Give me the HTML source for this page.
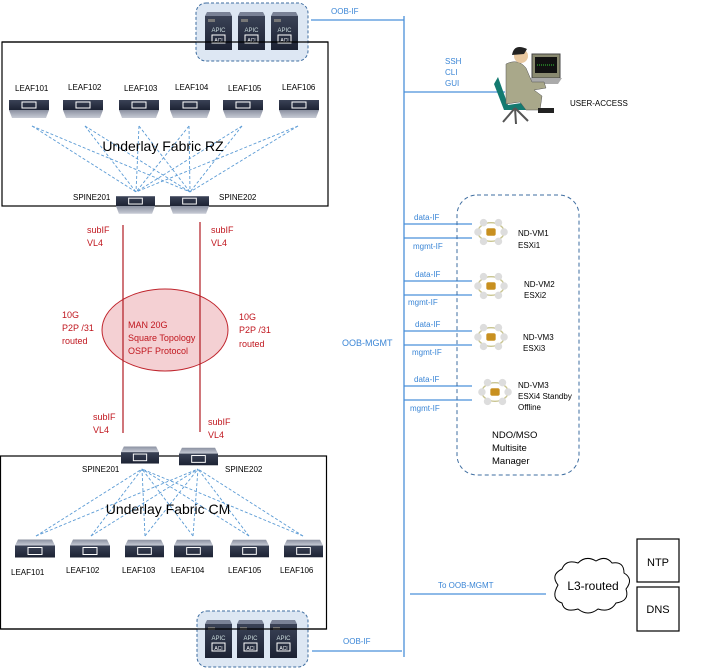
<!DOCTYPE html>
<html><head><meta charset="utf-8"><style>
html,body{margin:0;padding:0;background:#fff}
svg{display:block}
text{font-family:"Liberation Sans",sans-serif}
</style></head><body>
<svg width="701" height="668" viewBox="0 0 701 668" xmlns="http://www.w3.org/2000/svg">
<defs>
<linearGradient id="sw" x1="0" y1="0" x2="0" y2="1"><stop offset="0" stop-color="#3a4256"/><stop offset="1" stop-color="#1c2233"/></linearGradient>
<linearGradient id="swb" x1="0" y1="0" x2="0" y2="1"><stop offset="0" stop-color="#8a90a0"/><stop offset="1" stop-color="#c8ccd6"/></linearGradient>
<symbol id="leafT" viewBox="0 0 40 18"><rect x="0" y="0" width="40" height="10" fill="url(#sw)"/><polygon points="0,10 40,10 37,18 3,18" fill="url(#swb)"/><rect x="13" y="2" width="14" height="6" fill="none" stroke="#fff" stroke-width="1"/></symbol>
<symbol id="leafB" viewBox="0 0 40 18"><polygon points="3,0 37,0 40,6 0,6" fill="url(#swb)"/><rect x="0" y="6" width="40" height="12" fill="url(#sw)"/><rect x="13" y="8" width="14" height="7" fill="none" stroke="#fff" stroke-width="1"/></symbol>
<symbol id="apic" viewBox="0 0 27 38"><polygon points="2,0 25,0 27,4 0,4" fill="#7a8296"/><rect x="0" y="4" width="27" height="34" fill="url(#sw)"/><rect x="3" y="7" width="7" height="3" fill="#777"/><text x="13.5" y="20" font-size="6" fill="#cdd" text-anchor="middle">APIC</text><rect x="7" y="23" width="13" height="8" fill="none" stroke="#fff" stroke-width="1"/><text x="13.5" y="30" font-size="5" fill="#fff" text-anchor="middle">ACI</text></symbol>
<symbol id="nd" viewBox="0 0 40 30"><ellipse cx="20" cy="15" rx="14" ry="10" fill="none" stroke="#c8c490" stroke-width="1.5"/><circle cx="6" cy="15" r="4" fill="#ddd"/><circle cx="34" cy="15" r="4" fill="#ddd"/><circle cx="12" cy="5" r="4" fill="#ddd"/><circle cx="28" cy="5" r="4" fill="#ddd"/><circle cx="12" cy="25" r="4" fill="#ddd"/><circle cx="28" cy="25" r="4" fill="#ddd"/><rect x="15" y="11" width="10" height="8" rx="2" fill="#c89020"/></symbol>
</defs>

<g stroke="#4a90d9" stroke-width="1.3" fill="none">
<line x1="404" y1="16" x2="404" y2="657"/>
<line x1="311" y1="20" x2="404" y2="20"/>
<line x1="312" y1="651" x2="402" y2="651"/>
<line x1="404" y1="92" x2="505" y2="92"/>
<line x1="410" y1="594" x2="546" y2="594"/>
<line x1="404" y1="224" x2="472" y2="224"/><line x1="404" y1="238" x2="472" y2="238"/>
<line x1="404" y1="281" x2="472" y2="281"/><line x1="404" y1="295" x2="472" y2="295"/>
<line x1="404" y1="331" x2="472" y2="331"/><line x1="404" y1="345" x2="472" y2="345"/>
<line x1="404" y1="386" x2="472" y2="386"/><line x1="404" y1="400" x2="472" y2="400"/>
</g>
<g font-size="8" fill="#3b86d6">
<text x="331" y="14">OOB-IF</text>
<text x="343" y="644">OOB-IF</text>
<text x="445" y="64">SSH</text><text x="445" y="75">CLI</text><text x="445" y="86">GUI</text>
<text x="342" y="346" font-size="9">OOB-MGMT</text>
<text x="438" y="588">To OOB-MGMT</text>
<text x="414" y="220">data-IF</text><text x="413" y="249">mgmt-IF</text>
<text x="415" y="277">data-IF</text><text x="408" y="305">mgmt-IF</text>
<text x="415" y="327">data-IF</text><text x="412" y="355">mgmt-IF</text>
<text x="414" y="382">data-IF</text><text x="410" y="411">mgmt-IF</text>
</g>

<rect x="2" y="42" width="326" height="164" fill="none" stroke="#000" stroke-width="1.2"/>
<rect x="0.5" y="456" width="326" height="173" fill="none" stroke="#000" stroke-width="1.2"/>

<rect x="196" y="3" width="112" height="58" rx="10" fill="#dde7f3" stroke="#3e6da0" stroke-dasharray="3,2"/>
<use href="#apic" x="205" y="12" width="27" height="38"/><use href="#apic" x="238" y="12" width="27" height="38"/><use href="#apic" x="271" y="12" width="27" height="38"/>
<rect x="197" y="611" width="111" height="56" rx="10" fill="#dde7f3" stroke="#3e6da0" stroke-dasharray="3,2"/>
<use href="#apic" x="205" y="620" width="27" height="38"/><use href="#apic" x="237" y="620" width="27" height="38"/><use href="#apic" x="270" y="620" width="27" height="38"/>
<line x1="2" y1="42" x2="328" y2="42" stroke="#000" stroke-width="1.2"/>
<line x1="0.5" y1="629" x2="326.5" y2="629" stroke="#000" stroke-width="1.2"/>

<g stroke="#5b9bd5" stroke-width="0.9" stroke-dasharray="3,2" fill="none">
<line x1="32" y1="126" x2="136" y2="192"/><line x1="32" y1="126" x2="190" y2="192"/>
<line x1="85" y1="126" x2="136" y2="192"/><line x1="85" y1="126" x2="190" y2="192"/>
<line x1="139" y1="126" x2="136" y2="192"/><line x1="139" y1="126" x2="190" y2="192"/>
<line x1="189" y1="126" x2="136" y2="192"/><line x1="189" y1="126" x2="190" y2="192"/>
<line x1="242" y1="126" x2="136" y2="192"/><line x1="242" y1="126" x2="190" y2="192"/>
<line x1="298" y1="126" x2="136" y2="192"/><line x1="298" y1="126" x2="190" y2="192"/>
</g>
<g stroke="#5b9bd5" stroke-width="0.9" stroke-dasharray="3,2" fill="none">
<line x1="36" y1="536" x2="142" y2="469"/><line x1="36" y1="536" x2="198" y2="469"/>
<line x1="91" y1="536" x2="142" y2="469"/><line x1="91" y1="536" x2="198" y2="469"/>
<line x1="145" y1="536" x2="142" y2="469"/><line x1="145" y1="536" x2="198" y2="469"/>
<line x1="193" y1="536" x2="142" y2="469"/><line x1="193" y1="536" x2="198" y2="469"/>
<line x1="249" y1="536" x2="142" y2="469"/><line x1="249" y1="536" x2="198" y2="469"/>
<line x1="303" y1="536" x2="142" y2="469"/><line x1="303" y1="536" x2="198" y2="469"/>
</g>

<use href="#leafT" x="9" y="100" width="40" height="18"/><use href="#leafT" x="63" y="100" width="40" height="18"/>
<use href="#leafT" x="119" y="100" width="40" height="18"/><use href="#leafT" x="170" y="100" width="40" height="18"/>
<use href="#leafT" x="223" y="100" width="40" height="18"/><use href="#leafT" x="279" y="100" width="40" height="18"/>
<use href="#leafT" x="116" y="196" width="39" height="18"/><use href="#leafT" x="170" y="196" width="39" height="18"/>
<g font-size="8" fill="#000">
<text x="15" y="91">LEAF101</text><text x="68" y="90">LEAF102</text><text x="124" y="91">LEAF103</text><text x="175" y="90">LEAF104</text><text x="228" y="91">LEAF105</text><text x="282" y="90">LEAF106</text>
<text x="73" y="200">SPINE201</text><text x="219" y="200">SPINE202</text>
<text x="82" y="472">SPINE201</text><text x="225" y="472">SPINE202</text>
<text x="11" y="575">LEAF101</text><text x="66" y="573">LEAF102</text><text x="122" y="573">LEAF103</text><text x="171" y="573">LEAF104</text><text x="228" y="573">LEAF105</text><text x="280" y="573">LEAF106</text>
</g>
<text x="163" y="151" font-size="14" text-anchor="middle" fill="#000">Underlay Fabric RZ</text>
<text x="168" y="514" font-size="14" text-anchor="middle" fill="#000">Underlay Fabric CM</text>

<use href="#leafB" x="15" y="539" width="40" height="19"/><use href="#leafB" x="70" y="539" width="40" height="19"/>
<use href="#leafB" x="125" y="539" width="39" height="19"/><use href="#leafB" x="174" y="539" width="39" height="19"/>
<use href="#leafB" x="230" y="539" width="39" height="19"/><use href="#leafB" x="284" y="539" width="39" height="19"/>
<use href="#leafB" x="121" y="445" width="38" height="20"/><use href="#leafB" x="179" y="446" width="39" height="21"/>

<ellipse cx="165" cy="330" rx="63" ry="41" fill="#f4d0d3" stroke="#c0262e" stroke-width="1"/>
<line x1="123" y1="225" x2="123" y2="433" stroke="#b01a22" stroke-width="1.2"/>
<line x1="200" y1="222" x2="200" y2="432" stroke="#b01a22" stroke-width="1.2"/>
<g font-size="9" fill="#c0161e">
<text x="128" y="328">MAN 20G</text><text x="128" y="341">Square Topology</text><text x="128" y="354">OSPF Protocol</text>
<text x="87" y="233">subIF</text><text x="87" y="246">VL4</text>
<text x="211" y="233">subIF</text><text x="211" y="246">VL4</text>
<text x="62" y="318">10G</text><text x="62" y="331">P2P /31</text><text x="62" y="344">routed</text>
<text x="239" y="320">10G</text><text x="239" y="333">P2P /31</text><text x="239" y="347">routed</text>
<text x="93" y="420">subIF</text><text x="93" y="433">VL4</text>
<text x="208" y="425">subIF</text><text x="208" y="438">VL4</text>
</g>

<!-- user -->
<g>
<rect x="532" y="54" width="28" height="24" fill="#8a8a70" stroke="#444"/><rect x="535" y="57" width="22" height="16" fill="#111"/><line x1="537" y1="65" x2="555" y2="65" stroke="#3c3" stroke-dasharray="1,1"/>
<polygon points="530,78 562,78 558,84 528,84" fill="#aaa"/>
<path d="M498,77 l10,28 l20,-3 l-2,8 l-22,0 l-10,-26 z" fill="#137a70"/>
<path d="M506,64 q12,-6 20,4 l6,14 l12,0 l2,6 l-12,2 l8,6 l-2,14 l-14,0 l-6,-8 l-14,2 z" fill="#a9a88a" stroke="#555" stroke-width="0.5"/>
<circle cx="521" cy="56" r="7" fill="#e8c8a0"/><path d="M512,55 q2,-12 15,-6 l-3,5 z" fill="#222"/>
<rect x="538" y="108" width="16" height="5" fill="#222"/>
<g stroke="#555" stroke-width="2"><line x1="515" y1="108" x2="503" y2="122"/><line x1="515" y1="108" x2="528" y2="121"/><line x1="515" y1="108" x2="516" y2="124"/></g>
</g>
<text x="570" y="106" font-size="8" fill="#000">USER-ACCESS</text>

<rect x="457" y="195" width="122" height="280" rx="20" fill="none" stroke="#3e6da0" stroke-dasharray="4,3"/>
<use href="#nd" x="472" y="218" width="38" height="28"/>
<use href="#nd" x="472" y="272" width="38" height="28"/>
<use href="#nd" x="472" y="323" width="38" height="28"/>
<use href="#nd" x="476" y="378" width="38" height="28"/>
<g font-size="8" fill="#000">
<text x="518" y="236">ND-VM1</text><text x="518" y="248">ESXi1</text>
<text x="524" y="287">ND-VM2</text><text x="524" y="298">ESXi2</text>
<text x="523" y="340">ND-VM3</text><text x="523" y="351">ESXi3</text>
<text x="518" y="388">ND-VM3</text><text x="518" y="399">ESXi4  Standby</text><text x="518" y="410">Offline</text>
</g>
<g font-size="9.5" fill="#000"><text x="492" y="438">NDO/MSO</text><text x="492" y="451">Multisite</text><text x="492" y="464">Manager</text></g>

<path d="M558,585 q-8,-10 4,-16 q4,-10 16,-6 q8,-8 18,-2 q10,-6 16,2 q12,-2 12,10 q10,6 2,16 q4,12 -10,14 q-6,10 -18,6 q-10,8 -20,0 q-14,4 -16,-6 q-12,-4 -4,-18 z" fill="#fff" stroke="#000" stroke-width="1"/>
<text x="593" y="590" font-size="12" text-anchor="middle" fill="#000">L3-routed</text>
<rect x="637" y="539" width="42" height="43" fill="#fff" stroke="#000" stroke-width="1.2"/>
<rect x="637" y="587" width="42" height="44" fill="#fff" stroke="#000" stroke-width="1.2"/>
<text x="658" y="566" font-size="11" text-anchor="middle">NTP</text>
<text x="658" y="613" font-size="11" text-anchor="middle">DNS</text>
</svg>
</body></html>
